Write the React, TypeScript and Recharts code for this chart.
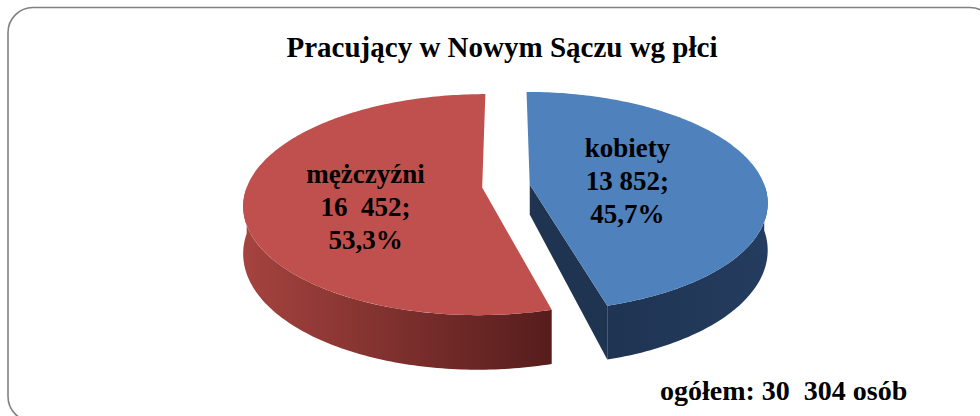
import { PieChart, Pie, Cell } from 'recharts';

const categories = ['kobiety', 'mężczyźni'];
const values = [13852, 16452];
const valueLabels = ['13 852;', '16  452;'];
const percentLabels = ['45,7%', '53,3%'];
const totalLabel = 'ogółem: 30  304 osób';
const title = 'Pracujący w Nowym Sączu wg płci';

const topColors = ['#4f81bd', '#c0504d'];
const sideFrom = ['#1f3452', '#a5433f'];
const sideTo = ['#243c5f', '#561d1c'];
const cutColors = ['#1f3451', '#6e2826'];

const data = categories.map((name, i) => ({ name, value: values[i] }));

const FONT = "'Liberation Serif', 'Times New Roman', serif";

// fake 3D: tilted disc with a bit of perspective
const TILT = 0.457;
const PERSP = 6.46;
const EXPLODE = 24;
const DEPTH = 46;
const DEPTH_CENTER = 30;
const RAD = Math.PI / 180;

function idxOf(props: any) {
  if (typeof props.index === 'number') return props.index;
  const n = props.name ?? props.payload?.name;
  const i = categories.indexOf(n);
  return i < 0 ? 0 : i;
}

function makeProj(cx: number, cy: number, R: number) {
  const D = PERSP * R;
  return (X: number, Z: number, h = 0): [number, number] => {
    const s = D / (D + Z);
    return [cx + X * s, cy - Z * TILT * s + h * s];
  };
}

const pts = (list: [number, number][]) =>
  list.map((p, i) => `${i ? 'L' : 'M'}${p[0].toFixed(2)},${p[1].toFixed(2)}`).join(' ');

function Slice3D(props: any) {
  const { cx, cy, outerRadius: R, startAngle, endAngle } = props;
  const i = idxOf(props);
  const a0 = Math.min(startAngle, endAngle);
  const a1 = Math.max(startAngle, endAngle);
  const mid = (a0 + a1) / 2;
  const ox = EXPLODE * Math.cos(mid * RAD);
  const oz = EXPLODE * Math.sin(mid * RAD);
  const proj = makeProj(cx, cy, R);
  const ring = (a: number, h = 0) => proj(R * Math.cos(a * RAD) + ox, R * Math.sin(a * RAD) + oz, h);
  const arc = (b0: number, b1: number, h = 0) => {
    const n = Math.max(2, Math.ceil(b1 - b0));
    const out: [number, number][] = [];
    for (let k = 0; k <= n; k++) out.push(ring(b0 + ((b1 - b0) * k) / n, h));
    return out;
  };

  const center = proj(ox, oz);
  const top = pts([center, ...arc(a0, a1)]) + ' Z';

  // front side band (where the rim faces the viewer)
  const bands: string[] = [];
  for (let k = -2; k <= 1; k++) {
    const f0 = Math.max(a0, -180 + 360 * k);
    const f1 = Math.min(a1, 360 * k);
    if (f1 > f0) {
      bands.push(pts([...arc(f0, f1), ...arc(f0, f1, DEPTH).reverse()]) + ' Z');
    }
  }

  // cut faces turned to the viewer
  const cuts: string[] = [];
  const mx = Math.cos(mid * RAD);
  const mz = Math.sin(mid * RAD);
  [a0, a1].forEach((e) => {
    let nx = -Math.sin(e * RAD);
    let nz = Math.cos(e * RAD);
    if (nx * mx + nz * mz > 0) {
      nx = -nx;
      nz = -nz;
    }
    if (nz < -0.01) {
      const p = ring(e);
      const pb = ring(e, DEPTH);
      const cb = proj(ox, oz, DEPTH_CENTER);
      cuts.push(pts([center, p, pb, cb]) + ' Z');
    }
  });

  const gid = `side-grad-${i}`;
  return (
    <g>
      <defs>
        <linearGradient id={gid} x1="0" y1="0" x2="1" y2="0">
          <stop offset="0%" stopColor={sideFrom[i]} />
          <stop offset="100%" stopColor={sideTo[i]} />
        </linearGradient>
      </defs>
      {cuts.map((d, k) => (
        <path key={`c${k}`} d={d} fill={cutColors[i]} />
      ))}
      {bands.map((d, k) => (
        <path key={`b${k}`} d={d} fill={`url(#${gid})`} />
      ))}
      <path d={top} fill={topColors[i]} />
    </g>
  );
}

function SliceLabel(props: any) {
  const { cx, cy, outerRadius: R, midAngle } = props;
  const i = idxOf(props);
  const proj = makeProj(cx, cy, R);
  const f = 0.46;
  const m = midAngle * RAD;
  const X = (EXPLODE + f * R) * Math.cos(m);
  const Z = (EXPLODE + f * R) * Math.sin(m);
  const [px, py] = proj(X, Z);
  const x = px - 8;
  const y = py + 8 - 37 * Math.sin(m);
  const lines = [categories[i], valueLabels[i], percentLabels[i]];
  const y0 = y - 24;
  return (
    <text
      x={x}
      y={y0}
      textAnchor="middle"
      fill="#000"
      fontFamily={FONT}
      fontWeight="bold"
      fontSize={27}
      xmlSpace="preserve"
      style={{ whiteSpace: 'pre' }}
    >
      {lines.map((t, k) => (
        <tspan key={k} x={x} y={y0 + k * 33}>
          {t}
        </tspan>
      ))}
    </text>
  );
}

export default function App() {
  return (
    <div style={{ position: 'fixed', left: 0, top: 0, width: 980, height: 416, background: '#fff', overflow: 'hidden' }}>
      <svg width={980} height={416} style={{ position: 'absolute', left: 0, top: 0 }}>
        <rect x={8} y={7.5} width={987} height={414} rx={25} ry={25} fill="#fff" stroke="#808080" strokeWidth={1.6} />
      </svg>
      <div style={{ position: 'absolute', left: 0, top: 0 }}>
        <PieChart width={980} height={416}>
          <Pie
            data={data}
            dataKey="value"
            nameKey="name"
            cx={501}
            cy={181}
            outerRadius={235}
            startAngle={90}
            endAngle={-270}
            stroke="none"
            labelLine={false}
            label={SliceLabel}
            shape={Slice3D}
            isAnimationActive={false}
          >
            {data.map((d, i) => (
              <Cell key={d.name} fill={topColors[i]} />
            ))}
          </Pie>
        </PieChart>
      </div>
      <svg width={980} height={416} style={{ position: 'absolute', left: 0, top: 0, pointerEvents: 'none' }}>
        <text x={502} y={57} textAnchor="middle" fontFamily={FONT} fontWeight="bold" fontSize={29}>
          {title}
        </text>
        <text
          x={660}
          y={400}
          fontFamily={FONT}
          fontWeight="bold"
          fontSize={28}
          xmlSpace="preserve"
          style={{ whiteSpace: 'pre' }}
        >
          {totalLabel}
        </text>
      </svg>
    </div>
  );
}
